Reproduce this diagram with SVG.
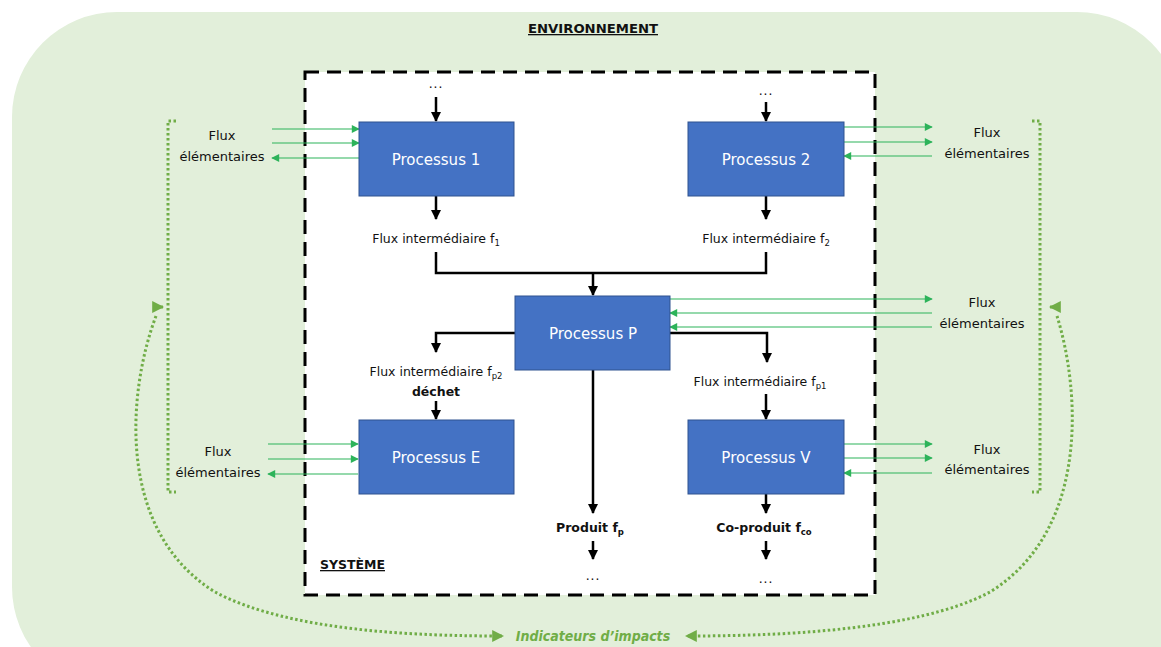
<svg xmlns="http://www.w3.org/2000/svg" width="1161" height="647" viewBox="0 0 1161 647">
<style>
.lbl{font-family:"DejaVu Sans","Liberation Sans",sans-serif;font-size:12.5px;fill:#111;text-anchor:middle}
.fx{font-size:13px}
.b{font-weight:bold}
.sub{font-size:8.5px}
.dots{font-family:"Liberation Sans",sans-serif;font-size:14px;fill:#111;text-anchor:middle;letter-spacing:1px}
.ptxt{font-family:"DejaVu Sans","Liberation Sans",sans-serif;font-size:15px;fill:#fff;text-anchor:middle}
.box{fill:#4472C4;stroke:#2F528F;stroke-width:1}
.blk{stroke:#000;stroke-width:2.5;fill:none}
.grn{stroke:#2DB35A;stroke-width:1.2;fill:none}
.dot{stroke:#70AD47;stroke-width:3;fill:none;stroke-dasharray:2.5 2.5}
.title{font-family:"DejaVu Sans Condensed","Liberation Sans",sans-serif;font-weight:bold;font-size:13px;fill:#111;text-decoration:underline}
</style>
<defs>
<marker id="ab" viewBox="0 0 10 10" refX="9" refY="5" markerWidth="4" markerHeight="4" orient="auto"><path d="M0,0 L10,5 L0,10 z" fill="#000"/></marker>
<marker id="ag" viewBox="0 0 10 10" refX="9" refY="5" markerWidth="9" markerHeight="8" markerUnits="userSpaceOnUse" orient="auto"><path d="M0,0 L10,5 L0,10 z" fill="#2DB35A"/></marker>
<marker id="agl" viewBox="0 0 10 10" refX="9" refY="5" markerWidth="4" markerHeight="4" orient="auto"><path d="M0,0 L10,5 L0,10 z" fill="#70AD47"/></marker>
</defs>
<rect width="1161" height="647" fill="#fff"/>
<rect id="environnement" x="12" y="12" width="1170" height="680" rx="105" ry="105" fill="#E2EFDA"/>
<text class="title" x="528" y="33" textLength="130" lengthAdjust="spacingAndGlyphs">ENVIRONNEMENT</text>
<g id="systeme">
<rect x="305" y="72" width="570" height="523" fill="#fff" stroke="#000" stroke-width="3" stroke-dasharray="14 8"/>
<text class="title" x="320" y="569" textLength="65" lengthAdjust="spacingAndGlyphs">SYSTÈME</text>
</g>

<g id="connectors">
<text class="dots" x="436" y="88">...</text>
<line class="blk" x1="436" y1="97" x2="436" y2="121" marker-end="url(#ab)"/>
<text class="dots" x="766" y="95">...</text>
<line class="blk" x1="766" y1="102" x2="766" y2="121" marker-end="url(#ab)"/>
<line class="blk" x1="436" y1="196" x2="436" y2="219" marker-end="url(#ab)"/>
<line class="blk" x1="766" y1="196" x2="766" y2="219" marker-end="url(#ab)"/>
<text class="lbl" x="436" y="243">Flux intermédiaire f<tspan class="sub" dy="3">1</tspan></text>
<text class="lbl" x="766" y="243">Flux intermédiaire f<tspan class="sub" dy="3">2</tspan></text>
<polyline class="blk" points="436,252 436,273 766,273 766,252"/>
<line class="blk" x1="593" y1="273" x2="593" y2="295" marker-end="url(#ab)"/>
<polyline class="blk" points="670,333 767,333 767,362" marker-end="url(#ab)"/>
<text class="lbl" x="760" y="386">Flux intermédiaire f<tspan class="sub" dy="3">p1</tspan></text>
<line class="blk" x1="766" y1="394" x2="766" y2="419" marker-end="url(#ab)"/>
<polyline class="blk" points="515,333 436,333 436,352" marker-end="url(#ab)"/>
<text class="lbl" x="436" y="376">Flux intermédiaire f<tspan class="sub" dy="3">p2</tspan></text>
<text class="lbl b" x="436" y="396">déchet</text>
<line class="blk" x1="436" y1="401" x2="436" y2="419" marker-end="url(#ab)"/>
<line class="blk" x1="593" y1="370" x2="593" y2="513" marker-end="url(#ab)"/>
<text class="lbl b" x="590" y="532">Produit f<tspan class="sub" dy="3">p</tspan></text>
<line class="blk" x1="593" y1="541" x2="593" y2="559" marker-end="url(#ab)"/>
<text class="dots" x="593" y="580">...</text>
<line class="blk" x1="766" y1="494" x2="766" y2="513" marker-end="url(#ab)"/>
<text class="lbl b" x="764" y="532">Co-produit f<tspan class="sub" dy="3">co</tspan></text>
<line class="blk" x1="766" y1="541" x2="766" y2="559" marker-end="url(#ab)"/>
<text class="dots" x="766" y="583">...</text>

<line class="grn" x1="272" y1="129" x2="359" y2="129" marker-end="url(#ag)"/>
<line class="grn" x1="272" y1="143" x2="359" y2="143" marker-end="url(#ag)"/>
<line class="grn" x1="359" y1="158" x2="272" y2="158" marker-end="url(#ag)"/>
<line class="grn" x1="844" y1="127" x2="932" y2="127" marker-end="url(#ag)"/>
<line class="grn" x1="844" y1="142" x2="932" y2="142" marker-end="url(#ag)"/>
<line class="grn" x1="932" y1="156" x2="844" y2="156" marker-end="url(#ag)"/>
<line class="grn" x1="670" y1="299" x2="932" y2="299" marker-end="url(#ag)"/>
<line class="grn" x1="932" y1="313" x2="670" y2="313" marker-end="url(#ag)"/>
<line class="grn" x1="932" y1="327" x2="670" y2="327" marker-end="url(#ag)"/>
<line class="grn" x1="268" y1="444" x2="358" y2="444" marker-end="url(#ag)"/>
<line class="grn" x1="268" y1="459" x2="358" y2="459" marker-end="url(#ag)"/>
<line class="grn" x1="358" y1="474" x2="268" y2="474" marker-end="url(#ag)"/>
<line class="grn" x1="844" y1="444" x2="932" y2="444" marker-end="url(#ag)"/>
<line class="grn" x1="844" y1="458" x2="932" y2="458" marker-end="url(#ag)"/>
<line class="grn" x1="932" y1="473" x2="844" y2="473" marker-end="url(#ag)"/>

<polyline class="dot" points="176,121 168,121 168,492 176,492"/>
<polyline class="dot" points="1032,121 1040,121 1040,492 1032,492"/>
<path class="dot" d="M156,316 C128,390 115,530 215,592 C290,632 420,636 503,636" marker-end="url(#agl)"/>
<path class="dot" d="M1057,316 C1080,390 1090,530 990,592 C915,632 770,636 686,636" marker-end="url(#agl)"/>
<line stroke="#70AD47" stroke-width="3" x1="154" y1="307" x2="163" y2="307" marker-end="url(#agl)"/>
<line stroke="#70AD47" stroke-width="3" x1="1059" y1="307" x2="1050" y2="307" marker-end="url(#agl)"/>
</g>

<g id="p1"><rect class="box" x="359" y="122" width="155" height="74"/><text class="ptxt" x="436" y="165">Processus 1</text></g>
<g id="p2"><rect class="box" x="688" y="122" width="156" height="74"/><text class="ptxt" x="766" y="165">Processus 2</text></g>
<g id="pp"><rect class="box" x="515" y="296" width="155" height="74"/><text class="ptxt" x="593" y="339">Processus P</text></g>
<g id="pe"><rect class="box" x="359" y="420" width="155" height="74"/><text class="ptxt" x="436" y="463">Processus E</text></g>
<g id="pv"><rect class="box" x="688" y="420" width="156" height="74"/><text class="ptxt" x="766" y="463">Processus V</text></g>

<g id="flux-labels">
<text class="lbl fx" x="222" y="140">Flux</text><text class="lbl fx" x="222" y="161">élémentaires</text>
<text class="lbl fx" x="987" y="137">Flux</text><text class="lbl fx" x="987" y="158">élémentaires</text>
<text class="lbl fx" x="982" y="307">Flux</text><text class="lbl fx" x="982" y="328">élémentaires</text>
<text class="lbl fx" x="218" y="456">Flux</text><text class="lbl fx" x="218" y="477">élémentaires</text>
<text class="lbl fx" x="987" y="454">Flux</text><text class="lbl fx" x="987" y="474">élémentaires</text>
</g>
<g id="indicateurs"><text x="593" y="641" text-anchor="middle" font-family="DejaVu Sans Condensed,Liberation Sans,sans-serif" font-style="italic" font-weight="bold" font-size="14" fill="#70AD47">Indicateurs d’impacts</text></g>
</svg>
